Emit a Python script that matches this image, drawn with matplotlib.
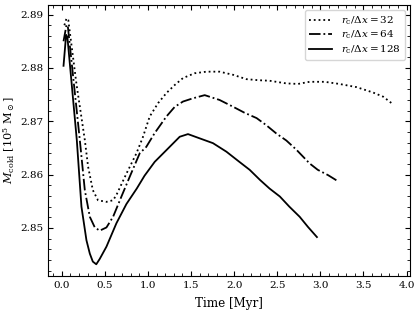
import numpy as np
import matplotlib

matplotlib.use("Agg")
import matplotlib.pyplot as plt
from matplotlib.ticker import MultipleLocator

plt.rcParams["font.family"] = "DejaVu Serif"
plt.rcParams["mathtext.fontset"] = "dejavuserif"

# ------------------------------------------------ data
t_32 = [0.03, 0.055, 0.075, 0.17, 0.267, 0.305, 0.36, 0.42, 0.518, 0.595,
        0.634, 0.75, 0.866, 0.94, 1.02, 1.117, 1.214, 1.31, 1.406, 1.54,
        1.678, 1.83, 1.99, 2.14, 2.28, 2.41, 2.605, 2.74, 2.875, 3.05, 3.22,
        3.42, 3.61, 3.73, 3.85]
m_32 = [2.8880, 2.8893, 2.8890, 2.8770, 2.8665, 2.8615, 2.8571, 2.8552, 2.8549,
        2.8552, 2.8562, 2.8602, 2.8640, 2.8670, 2.8709, 2.8734, 2.8753, 2.8768,
        2.8781, 2.8790, 2.8793, 2.8793, 2.8787, 2.8779, 2.8777, 2.8776, 2.8771,
        2.8770, 2.8774, 2.8774, 2.8770, 2.8764, 2.8754, 2.8746, 2.8731]

t_64 = [0.02, 0.055, 0.07, 0.209, 0.267, 0.325, 0.383, 0.44, 0.518, 0.595,
        0.692, 0.788, 0.904, 0.98, 1.078, 1.214, 1.31, 1.406, 1.52, 1.658,
        1.83, 1.99, 2.12, 2.26, 2.37, 2.49, 2.605, 2.72, 2.875, 2.97, 3.09,
        3.21]
m_64 = [2.8850, 2.8881, 2.8878, 2.8665, 2.8571, 2.8521, 2.8501, 2.8495, 2.8501,
        2.8521, 2.8559, 2.8596, 2.8640, 2.8652, 2.8678, 2.8709, 2.8727, 2.8737,
        2.8743, 2.8749, 2.8740, 2.8727, 2.8716, 2.8706, 2.8693, 2.8677, 2.8664,
        2.8647, 2.8621, 2.8609, 2.8599, 2.8587]

t_128 = [0.02, 0.05, 0.065, 0.174, 0.228, 0.286, 0.325, 0.36, 0.40, 0.44,
         0.518, 0.634, 0.75, 0.87, 0.96, 1.078, 1.214, 1.368, 1.464, 1.60,
         1.754, 1.91, 2.06, 2.18, 2.30, 2.41, 2.53, 2.64, 2.76, 2.856, 2.96]
m_128 = [2.8804, 2.8862, 2.8858, 2.8665, 2.8540, 2.8477, 2.8452, 2.8437, 2.8432,
         2.8442, 2.8465, 2.8509, 2.8545, 2.8574, 2.8598, 2.8624, 2.8646, 2.8671,
         2.8676, 2.8668, 2.8659, 2.8643, 2.8624, 2.8609, 2.8590, 2.8574, 2.8559,
         2.8540, 2.8521, 2.8502, 2.8483]

# ------------------------------------------------ figure
fig = plt.figure(figsize=(4.16, 3.11), dpi=100)
ax = fig.add_axes([0.1154, 0.1125, 0.8702, 0.8715])

ax.plot(t_32, m_32, ":", color="black", lw=1.3, label=r"$r_{\rm c}/\Delta x = 32$")
ax.plot(t_64, m_64, "-.", color="black", lw=1.3, label=r"$r_{\rm c}/\Delta x = 64$")
ax.plot(t_128, m_128, "-", color="black", lw=1.3, label=r"$r_{\rm c}/\Delta x = 128$")

ax.set_xlim(-0.16, 4.04)
ax.set_ylim(2.841, 2.8918)
ax.xaxis.set_major_locator(MultipleLocator(0.5))
ax.xaxis.set_minor_locator(MultipleLocator(0.1))
ax.yaxis.set_major_locator(MultipleLocator(0.01))
ax.yaxis.set_minor_locator(MultipleLocator(0.002))
ax.tick_params(which="both", direction="in", top=True, right=True, labelsize=7.5)
ax.tick_params(which="major", length=3.5, width=0.8)
ax.tick_params(which="minor", length=2, width=0.6)

ax.set_xlabel("Time [Myr]", fontsize=8.6, labelpad=5)
ax.set_ylabel(r"$M_{\rm cold}$ [$10^5$ M$_\odot$]", fontsize=8.2, labelpad=2)
ax.legend(loc="upper right", fontsize=7.5, handlelength=2.2, borderpad=0.4,
          labelspacing=0.2)

fig.savefig("out.png", dpi=100)
